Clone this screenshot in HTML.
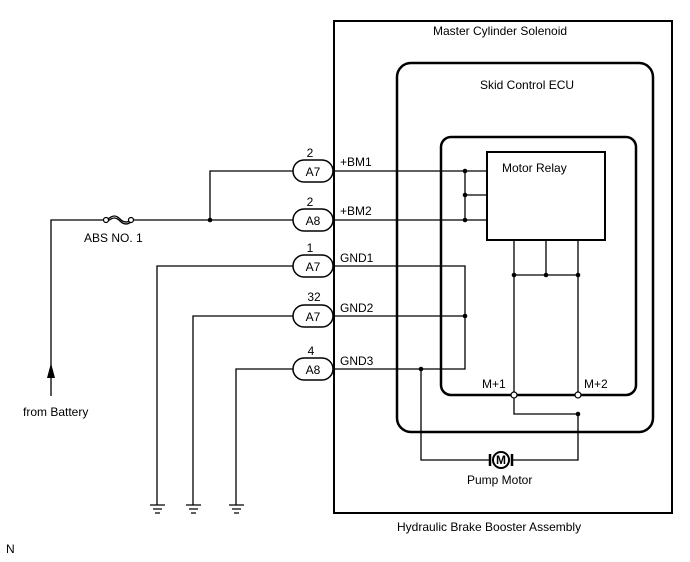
<!DOCTYPE html>
<html><head><style>body{margin:0;background:#fff}svg{display:block}text{font-family:"Liberation Sans",sans-serif;font-size:12px;fill:#000}</style></head>
<body>
<svg width="690" height="562" viewBox="0 0 690 562" xmlns="http://www.w3.org/2000/svg">
<g fill="none" stroke="#000">
<rect x="334" y="21" width="338" height="492" stroke-width="2"/>
<rect x="397" y="63" width="256" height="369" rx="14" stroke-width="2.5"/>
<rect x="441" y="137" width="195" height="258" rx="10" stroke-width="2.5"/>
<rect x="487" y="152" width="118" height="88" stroke-width="2"/>
<g stroke-width="1.3">
<path d="M333 171H487M333 220H487M465 171V220M465 195H487"/>
<path d="M333 266H465V369H333M333 316H465"/>
<path d="M514 240V395M546 240V275M578 240V395M514 275H578"/>
<path d="M514 395V414H578V460H513M490 460H421V369"/>
<path d="M293 171H210V220M293 220H133M103 220H51V396"/>
<path d="M293 266H157V505M293 316H193V505M293 369H236V505"/>
<path d="M150 505H165M153 509H162M155 513H160M186 505H201M189 509H198M191 513H196M229 505H244M232 509H241M234 513H239"/>
<path d="M108 219c5-4 8-4 12 0s8 4 12 0" />
<path d="M108 221c5-4 8-4 12 0s8 4 12 0" />
</g>
<g stroke-width="1.5">
<rect x="293" y="160" width="40" height="22" rx="11"/>
<rect x="293" y="209" width="40" height="22" rx="11"/>
<rect x="293" y="255" width="40" height="22" rx="11"/>
<rect x="293" y="305" width="40" height="22" rx="11"/>
<rect x="293" y="358" width="40" height="22" rx="11"/>
</g>
<circle cx="106" cy="220" r="2.5" fill="#fff" stroke-width="1.2"/>
<circle cx="131" cy="220" r="2.5" fill="#fff" stroke-width="1.2"/>
<circle cx="514" cy="395" r="3" fill="#fff" stroke-width="1.2"/>
<circle cx="578" cy="395" r="3" fill="#fff" stroke-width="1.2"/>
<circle cx="501" cy="460" r="8" fill="#fff" stroke-width="2"/>
<path d="M490 454V466M512 454V466" stroke-width="2.5"/>
</g>
<g fill="#000">
<circle cx="210" cy="220" r="2.3"/><circle cx="465" cy="171" r="2.3"/><circle cx="465" cy="195" r="2.3"/><circle cx="465" cy="220" r="2.3"/>
<circle cx="465" cy="316" r="2.3"/><circle cx="421" cy="369" r="2.3"/>
<circle cx="514" cy="275" r="2.3"/><circle cx="546" cy="275" r="2.3"/><circle cx="578" cy="275" r="2.3"/><circle cx="578" cy="414" r="2.3"/>
<path d="M51 363L47 378H55Z"/>
</g>
<text x="433" y="35">Master Cylinder Solenoid</text>
<text x="480" y="89">Skid Control ECU</text>
<text x="502" y="172">Motor Relay</text>
<text x="310" y="157" text-anchor="middle">2</text><text x="313" y="176" text-anchor="middle">A7</text>
<text x="310" y="206" text-anchor="middle">2</text><text x="313" y="225" text-anchor="middle">A8</text>
<text x="310" y="252" text-anchor="middle">1</text><text x="313" y="271" text-anchor="middle">A7</text>
<text x="314" y="301" text-anchor="middle">32</text><text x="313" y="321" text-anchor="middle">A7</text>
<text x="311" y="355" text-anchor="middle">4</text><text x="313" y="374" text-anchor="middle">A8</text>
<text x="340" y="166">+BM1</text><text x="340" y="215">+BM2</text>
<text x="340" y="262">GND1</text><text x="340" y="312">GND2</text><text x="340" y="365">GND3</text>
<text x="84" y="242">ABS NO. 1</text>
<text x="23" y="416">from Battery</text>
<text x="482" y="388">M+1</text><text x="584" y="388">M+2</text>
<text x="501" y="464" text-anchor="middle" font-weight="bold" font-size="11">M</text>
<text x="467" y="484">Pump Motor</text>
<text x="397" y="531">Hydraulic Brake Booster Assembly</text>
<text x="6" y="553" font-size="9">N</text>
</svg>
</body></html>
